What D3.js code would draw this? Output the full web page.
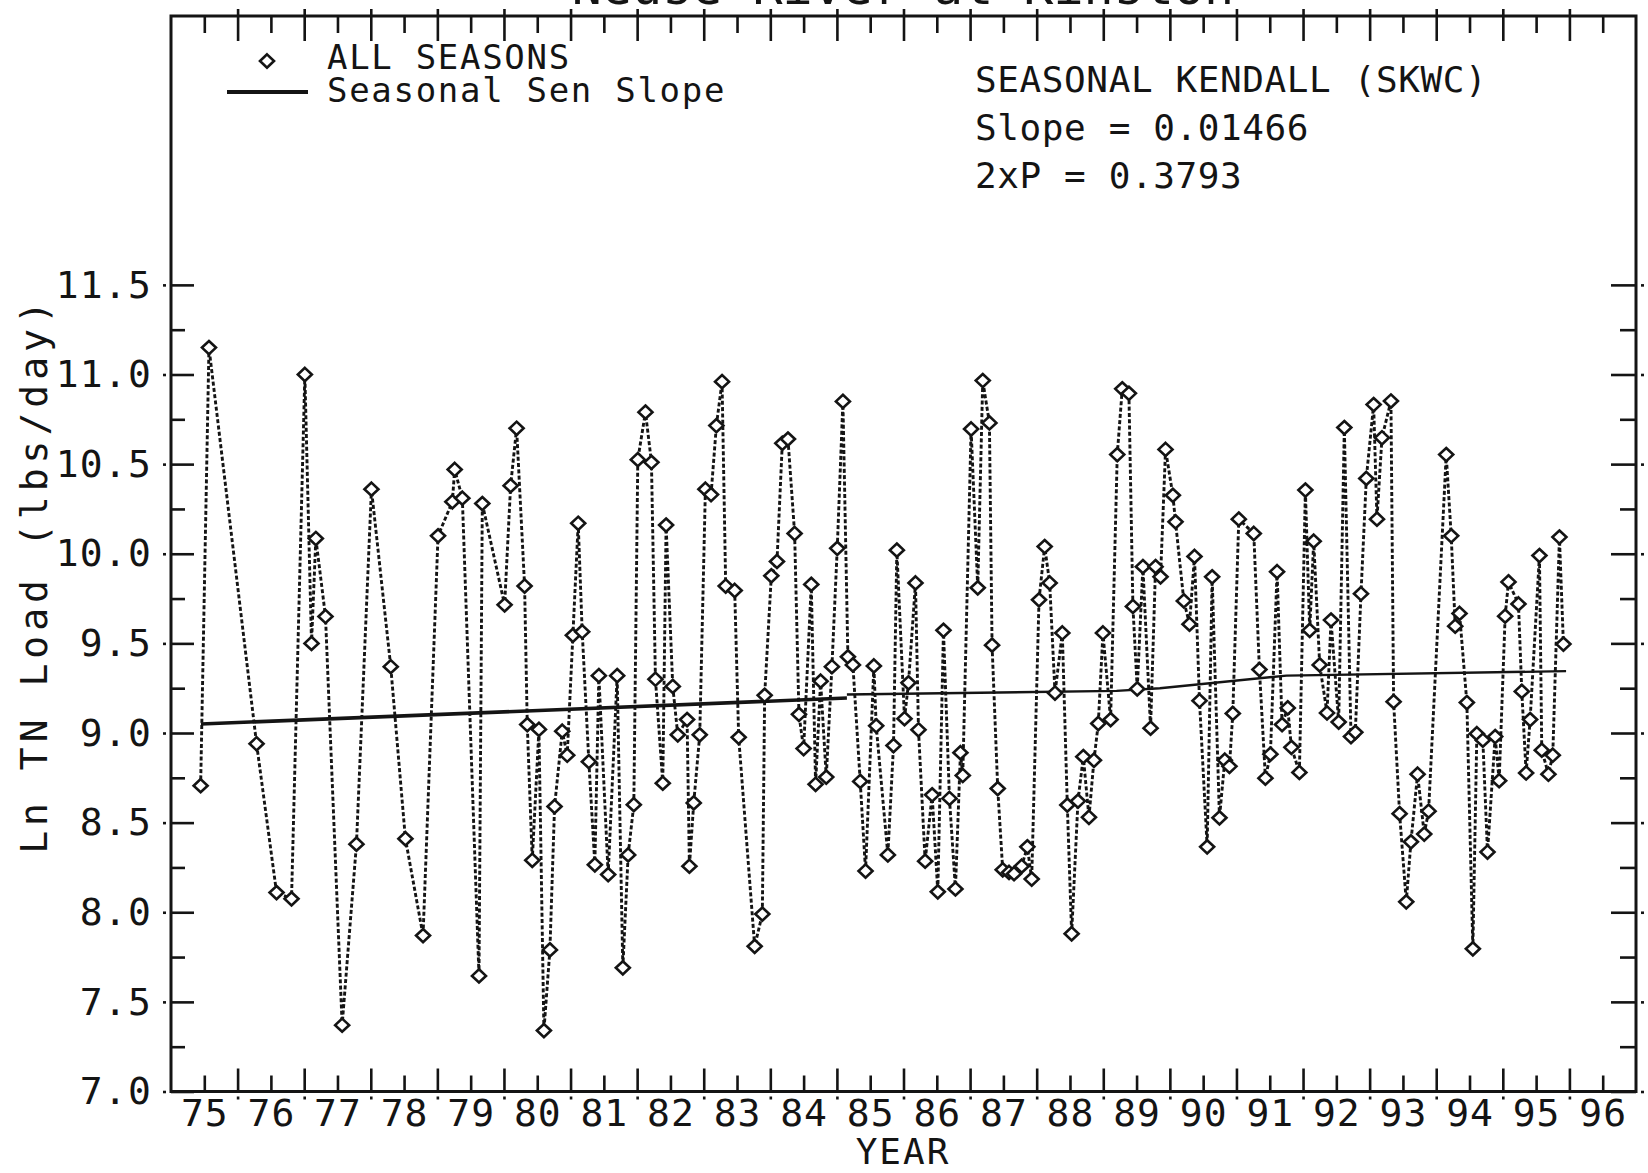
<!DOCTYPE html>
<html><head><meta charset="utf-8">
<script src="https://cdn.jsdelivr.net/npm/d3@7"></script>
<style>
body{margin:0;background:#fff}
svg{display:block;background:#fff}
text{font-family:"DejaVu Sans Mono","Liberation Mono",monospace;fill:#141414}
</style>
</head><body>
<svg id="chart" width="1648" height="1173"></svg>
<script>
// ---------------- data ----------------
const titleText = "Neuse River at Kinston";
const yAxisTitle = "Ln TN Load (lbs/day)";
const xAxisTitle = "YEAR";

const sampleYears = [
 1975.445,1975.57,1976.285,1976.585,1976.81,1977.01,1977.11,1977.175,1977.32,1977.57,1977.785,1978.01,1978.30,1978.52,1978.785,1979.01,
 1979.225,1979.26,1979.375,1979.625,1979.675,1980.01,1980.10,1980.19,1980.31,1980.35,1980.425,1980.525,1980.60,1980.69,1980.76,1980.875,1980.95,
 1981.035,1981.115,1981.175,1981.275,1981.365,1981.425,1981.565,1981.70,1981.785,1981.865,1981.95,
 1982.01,1982.125,1982.215,1982.275,1982.385,1982.435,1982.535,1982.61,1982.75,1982.785,1982.85,1982.94,
 1983.025,1983.11,1983.19,1983.275,1983.33,1983.465,1983.525,1983.765,1983.88,1983.915,
 1984.015,1984.10,1984.18,1984.265,1984.365,1984.43,1984.50,1984.615,1984.68,1984.755,1984.84,1984.925,
 1985.005,1985.09,1985.165,1985.24,1985.35,1985.43,1985.555,1985.59,1985.765,1985.85,1985.90,
 1986.015,1986.075,1986.18,1986.225,1986.325,1986.43,1986.515,1986.60,1986.69,1986.78,1986.855,1986.89,
 1987.015,1987.115,1987.19,1987.29,1987.33,1987.415,1987.49,1987.585,1987.66,1987.775,1987.86,1987.925,
 1988.035,1988.12,1988.195,1988.275,1988.385,1988.46,1988.525,1988.62,1988.70,1988.785,1988.86,1988.925,1988.995,
 1989.11,1989.21,1989.285,1989.385,1989.445,1989.51,1989.595,1989.71,1989.785,1989.86,1989.935,
 1990.045,1990.085,1990.21,1990.295,1990.37,1990.445,1990.56,1990.635,1990.745,1990.825,1990.895,1990.945,
 1991.035,1991.26,1991.345,1991.435,1991.51,1991.61,1991.685,1991.77,1991.825,1991.945,
 1992.035,1992.10,1992.16,1992.25,1992.36,1992.42,1992.535,1992.62,1992.72,1992.785,1992.87,1992.95,
 1993.06,1993.11,1993.185,1993.32,1993.36,1993.45,1993.55,1993.62,1993.72,1993.82,1993.885,
 1994.15,1994.225,1994.285,1994.35,1994.46,1994.55,1994.61,1994.70,1994.77,1994.885,1994.945,
 1995.035,1995.085,1995.235,1995.285,1995.35,1995.41,1995.55,1995.585,1995.685,1995.75,1995.85,1995.91
];
const lnLoad = [
 8.706,11.15,8.94,8.11,8.075,11.0,9.50,10.085,9.65,7.37,8.38,10.36,9.37,8.41,7.87,10.10,
 10.29,10.47,10.31,7.645,10.28,9.715,10.38,10.70,9.82,9.047,8.29,9.02,7.34,7.79,8.59,9.01,8.876,
 9.545,10.17,9.565,8.84,8.265,9.32,8.21,9.32,7.69,8.32,8.60,
 10.525,10.79,10.51,9.30,8.72,10.16,9.26,8.99,9.075,8.257,8.61,8.99,
 10.36,10.33,10.715,10.96,9.82,9.795,8.976,7.81,7.99,9.21,
 9.877,9.957,10.616,10.64,10.113,9.104,8.913,9.829,8.714,9.289,8.754,9.37,
 10.03,10.85,9.425,9.38,8.73,8.23,9.374,9.04,8.32,8.93,10.02,
 9.08,9.28,9.837,9.018,8.285,8.655,8.114,9.573,8.635,8.13,8.89,8.763,
 10.696,9.81,10.966,10.73,9.49,8.69,8.237,8.222,8.215,8.257,8.365,8.185,
 9.743,10.04,9.837,9.223,9.558,8.598,7.88,8.62,8.868,8.53,8.848,9.053,9.558,
 9.075,10.553,10.92,10.895,9.706,9.246,9.928,9.027,9.928,9.871,10.582,
 10.326,10.178,9.737,9.607,9.985,9.18,8.365,9.871,8.527,8.848,8.814,9.109,
 10.193,10.113,9.354,8.748,8.882,9.90,9.047,9.14,8.92,8.78,
 10.355,9.573,10.07,9.38,9.112,9.63,9.061,10.704,8.98,9.004,9.777,10.42,
 10.832,10.193,10.647,10.852,9.175,8.55,8.058,8.393,8.77,8.436,8.564,
 10.553,10.10,9.596,9.667,9.17,7.796,8.996,8.96,8.336,8.98,8.734,
 9.652,9.843,9.72,9.232,8.777,9.075,9.99,8.904,8.77,8.876,10.093,9.496
];

// Seasonal Sen slope trend line (two drawn pieces)
const trendYearsA = [1975.45, 1985.15];
const trendValuesA = [9.05, 9.195];
const trendYearsB = [1985.15, 1989.2, 1989.85, 1991.75, 1995.95];
const trendValuesB = [9.215, 9.235, 9.25, 9.32, 9.345];

const yMajorTicks = [7.0, 7.5, 8.0, 8.5, 9.0, 9.5, 10.0, 10.5, 11.0, 11.5];
const yMinorTicks = [7.25, 7.75, 8.25, 8.75, 9.25, 9.75, 10.25, 10.75, 11.25];
const yearStarts = [1976,1977,1978,1979,1980,1981,1982,1983,1984,1985,1986,1987,1988,1989,1990,1991,1992,1993,1994,1995,1996];
const yearMids = [1975.5,1976.5,1977.5,1978.5,1979.5,1980.5,1981.5,1982.5,1983.5,1984.5,1985.5,1986.5,1987.5,1988.5,1989.5,1990.5,1991.5,1992.5,1993.5,1994.5,1995.5,1996.5];
const yearLabels = ["75","76","77","78","79","80","81","82","83","84","85","86","87","88","89","90","91","92","93","94","95","96"];

const legendLabels = ["ALL SEASONS", "Seasonal Sen Slope"];
const statLines = ["SEASONAL KENDALL (SKWC)", "Slope = 0.01466", "2xP = 0.3793"];

// ---------------- drawing ----------------
const svg = d3.select("#chart");
const L = 171, R = 1636, T = 16, B = 1091.5;
const x = d3.scaleLinear().domain([1975, 1997]).range([L, R]);
const y = d3.scaleLinear().domain([7, 13]).range([B, T]);
const ink = "#141414";
const mono = '"DejaVu Sans Mono","Liberation Mono",monospace';

function styleAxis(g){
  g.select(".domain").remove();
  g.selectAll(".tick line").attr("stroke", ink).attr("stroke-width", 2.6);
}

// Title (mostly cut off at the top of the page, as in the scan)
svg.append("text").attr("x", 903).attr("y", 4).attr("text-anchor","middle")
  .attr("font-size", 50).text(titleText);

// Left axis
svg.append("g").attr("transform",`translate(${L},0)`)
  .call(d3.axisLeft(y).tickValues(yMajorTicks).tickSize(-23).tickPadding(19).tickFormat(d3.format(".1f")))
  .call(styleAxis)
  .call(g => g.selectAll("text").attr("font-size", 38).attr("letter-spacing", 1.2).attr("fill", ink)
        .attr("font-family", mono));
svg.append("g").attr("transform",`translate(${L},0)`)
  .call(d3.axisLeft(y).tickValues(yMinorTicks).tickSize(-14).tickFormat(""))
  .call(styleAxis);
svg.append("g").attr("transform",`translate(${L-5},0)`)
  .call(d3.axisLeft(y).tickValues(yMajorTicks).tickSize(3).tickFormat(""))
  .call(styleAxis);

// Right axis
svg.append("g").attr("transform",`translate(${R},0)`)
  .call(d3.axisRight(y).tickValues(yMajorTicks).tickSize(-25).tickFormat(""))
  .call(styleAxis);
svg.append("g").attr("transform",`translate(${R},0)`)
  .call(d3.axisRight(y).tickValues(yMinorTicks).tickSize(-16).tickFormat(""))
  .call(styleAxis);
svg.append("g").attr("transform",`translate(${R+5},0)`)
  .call(d3.axisRight(y).tickValues(yMajorTicks).tickSize(3).tickFormat(""))
  .call(styleAxis);

// Top axis
svg.append("g").attr("transform",`translate(0,${T})`)
  .call(d3.axisTop(x).tickValues(yearStarts).tickSize(-25).tickFormat(""))
  .call(styleAxis);
svg.append("g").attr("transform",`translate(0,${T})`)
  .call(d3.axisTop(x).tickValues(yearStarts).tickSize(7).tickFormat(""))
  .call(styleAxis);
svg.append("g").attr("transform",`translate(0,${T})`)
  .call(d3.axisTop(x).tickValues(yearMids).tickSize(-17).tickFormat(""))
  .call(styleAxis);

// Bottom axis
svg.append("g").attr("transform",`translate(0,${B})`)
  .call(d3.axisBottom(x).tickValues(yearStarts).tickSize(-23).tickFormat(""))
  .call(styleAxis);
svg.append("g").attr("transform",`translate(0,${B})`)
  .call(d3.axisBottom(x).tickValues(yearMids).tickSize(-16).tickFormat(""))
  .call(styleAxis);
svg.append("g").attr("transform",`translate(0,${B+5})`)
  .call(d3.axisBottom(x).tickValues(yearStarts).tickSize(3).tickFormat(""))
  .call(styleAxis);
svg.append("g").attr("transform",`translate(0,${B})`)
  .call(d3.axisBottom(x).tickValues(yearMids).tickSize(0).tickPadding(8)
        .tickFormat((d,i) => yearLabels[i]))
  .call(styleAxis)
  .call(g => g.selectAll("text").attr("font-size", 38).attr("letter-spacing", 1).attr("fill", ink)
        .attr("font-family", mono));

// Frame
svg.append("rect").attr("x", L).attr("y", T).attr("width", R-L).attr("height", B-T)
  .attr("fill","none").attr("stroke", ink).attr("stroke-width", 3);

// Axis titles
svg.append("text").attr("transform",`translate(47,${575}) rotate(-90)`)
  .attr("text-anchor","middle").attr("font-size", 38).attr("letter-spacing", 5).text(yAxisTitle);
svg.append("text").attr("x", 903).attr("y", 1164).attr("text-anchor","middle")
  .attr("font-size", 36).attr("letter-spacing", 2).text(xAxisTitle);

// Trend line
const trendLine = d3.line().x(d => x(d[0])).y(d => y(d[1]));
svg.append("path").datum(d3.zip(trendYearsA, trendValuesA)).attr("d", trendLine)
  .attr("fill","none").attr("stroke", ink).attr("stroke-width", 3.6);
svg.append("path").datum(d3.zip(trendYearsB, trendValuesB)).attr("d", trendLine)
  .attr("fill","none").attr("stroke", ink).attr("stroke-width", 2.4);

// Data series: dashed connecting line + diamonds
const pts = d3.zip(sampleYears, lnLoad);
svg.append("path").datum(pts)
  .attr("d", d3.line().x(d => x(d[0])).y(d => y(d[1])))
  .attr("fill","none").attr("stroke", ink).attr("stroke-width", 2.9)
  .attr("stroke-dasharray","4,2.3");

const diamond = "M0,-6.6L7,0L0,6.6L-7,0Z";
svg.append("g").selectAll("path").data(pts).join("path")
  .attr("transform", d => `translate(${x(d[0])},${y(d[1])})`)
  .attr("d", diamond).attr("fill","#fff").attr("stroke", ink).attr("stroke-width", 2.6);

// Legend
svg.append("path").attr("transform","translate(267,61)").attr("d", diamond)
  .attr("fill","#fff").attr("stroke", ink).attr("stroke-width", 2.6);
svg.append("text").attr("x", 327).attr("y", 69).attr("font-size", 34).attr("letter-spacing", 1.7).text(legendLabels[0]);
svg.append("line").attr("x1", 227).attr("x2", 308).attr("y1", 92).attr("y2", 92)
  .attr("stroke", ink).attr("stroke-width", 4);
svg.append("text").attr("x", 327).attr("y", 102).attr("font-size", 34).attr("letter-spacing", 1.7).text(legendLabels[1]);

// Statistics text
svg.append("g").selectAll("text").data(statLines).join("text")
  .attr("x", 975).attr("y", (d,i) => 92 + i*48)
  .attr("font-size", 36).attr("letter-spacing", 0.6).text(d => d);
</script>
</body></html>
